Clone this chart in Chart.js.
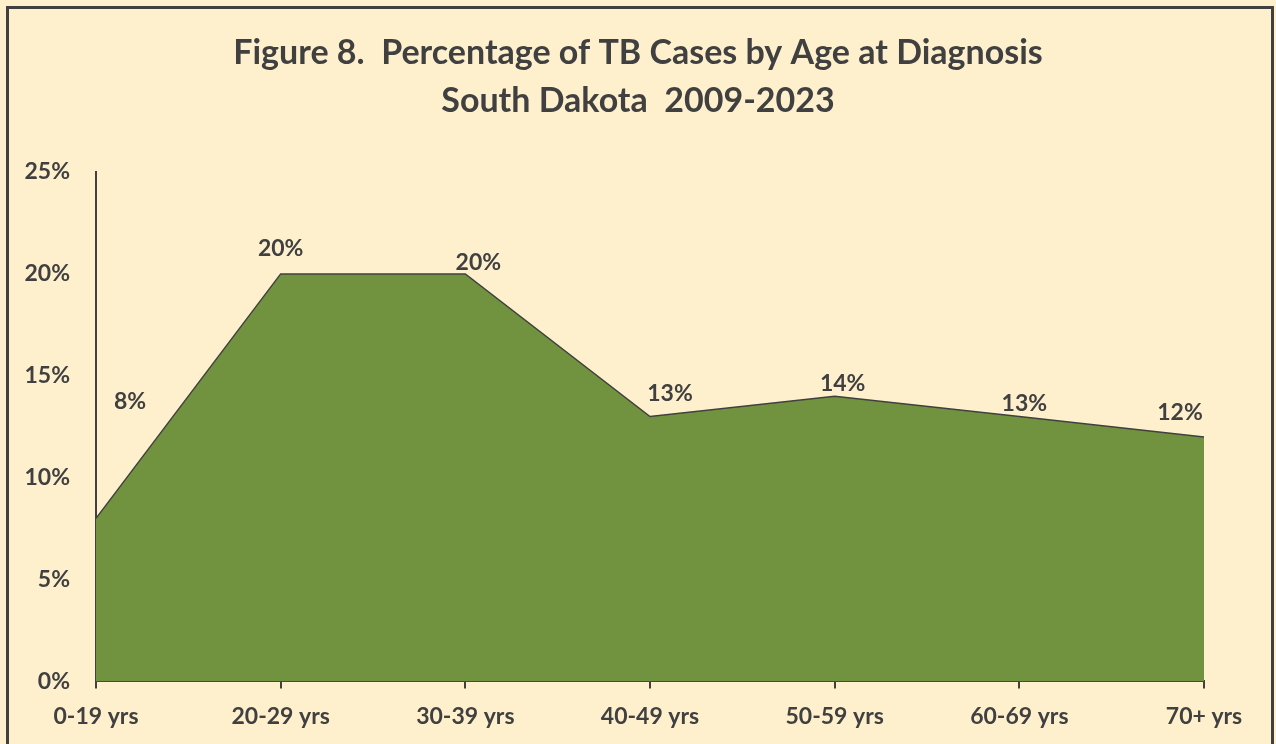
<!DOCTYPE html>
<html>
<head>
<meta charset="utf-8">
<script src="https://cdn.jsdelivr.net/npm/chart.js@4/dist/chart.umd.min.js"></script>
<style>
  html, body { margin: 0; padding: 0; background: #FFF0CD; }
  #wrap { width: 1276px; height: 744px; position: relative; }
</style>
</head>
<body>
<div id="wrap"><canvas id="c" width="1276" height="744"></canvas></div>
<script>
const categories = ['0-19 yrs', '20-29 yrs', '30-39 yrs', '40-49 yrs', '50-59 yrs', '60-69 yrs', '70+ yrs'];
const percentages = [8, 20, 20, 13, 14, 13, 12];
const yTicks = [0, 5, 10, 15, 20, 25];
const titleLines = ['Figure 8.  Percentage of TB Cases by Age at Diagnosis', 'South Dakota  2009-2023'];

const TEXT = '#404040';
const FONT = 'Lato, "Open Sans", sans-serif';
// label offsets in pixels relative to each point (styling only)
const labelOffsets = [[34, -117], [0, -25], [13, -11], [20, -23], [8, -13], [5, -13], [-24, -24]];

const frame = {
  id: 'frame',
  beforeDraw(chart) {
    const ctx = chart.ctx;
    ctx.save();
    ctx.fillStyle = '#FFF0CD';
    ctx.fillRect(0, 0, chart.width, chart.height);
    ctx.strokeStyle = '#404040';
    ctx.lineWidth = 3;
    ctx.beginPath();
    ctx.moveTo(7.5, chart.height + 5);
    ctx.lineTo(7.5, 7.5);
    ctx.lineTo(chart.width - 3.5, 7.5);
    ctx.lineTo(chart.width - 3.5, chart.height + 5);
    ctx.stroke();
    // title, centred on the whole figure
    ctx.font = 'bold 34px ' + FONT;
    ctx.fillStyle = TEXT;
    ctx.textAlign = 'center';
    ctx.textBaseline = 'middle';
    titleLines.forEach((t, i) => ctx.fillText(t, chart.width / 2, 53 + i * 48));
    ctx.restore();
  }
};

const dataLabels = {
  id: 'dataLabels',
  afterDatasetsDraw(chart) {
    const ctx = chart.ctx;
    const xs = chart.scales.x, ys = chart.scales.y;
    ctx.save();
    ctx.font = 'bold 23px ' + FONT;
    ctx.fillStyle = TEXT;
    ctx.textAlign = 'center';
    ctx.textBaseline = 'middle';
    percentages.forEach((v, i) => {
      const o = labelOffsets[i];
      ctx.fillText(v + '%', xs.getPixelForValue(i) + o[0], ys.getPixelForValue(v) + o[1]);
    });
    ctx.restore();
  }
};

new Chart(document.getElementById('c'), {
  type: 'line',
  data: {
    labels: categories,
    datasets: [{
      data: percentages,
      fill: 'origin',
      backgroundColor: '#71923F',
      borderColor: '#404040',
      borderWidth: 1.5,
      pointRadius: 0,
      tension: 0
    }]
  },
  options: {
    responsive: false,
    animation: false,
    devicePixelRatio: 1,
    layout: { padding: { left: 0, right: 72, top: 172, bottom: 0 } },
    plugins: {
      legend: { display: false },
      tooltip: { enabled: false },
      title: { display: false }
    },
    scales: {
      x: {
        offset: false,
        grid: { display: true, drawOnChartArea: false, drawTicks: true, tickLength: 7, color: '#404040', lineWidth: 2 },
        border: { display: true, color: '#404040', width: 2 },
        ticks: { color: TEXT, font: { family: FONT, size: 23, weight: 'bold' }, padding: 14, maxRotation: 0, autoSkip: false }
      },
      y: {
        min: 0,
        max: 25,
        afterFit(scale) { scale.width = 96; },
        afterBuildTicks(scale) { scale.ticks = yTicks.map(v => ({ value: v })); },
        grid: { display: true, drawOnChartArea: false, drawTicks: false },
        border: { display: true, color: '#404040', width: 2 },
        ticks: { color: TEXT, font: { family: FONT, size: 23, weight: 'bold' }, padding: 26, callback: v => v + '%' }
      }
    }
  },
  plugins: [frame, dataLabels]
});
</script>
</body>
</html>
